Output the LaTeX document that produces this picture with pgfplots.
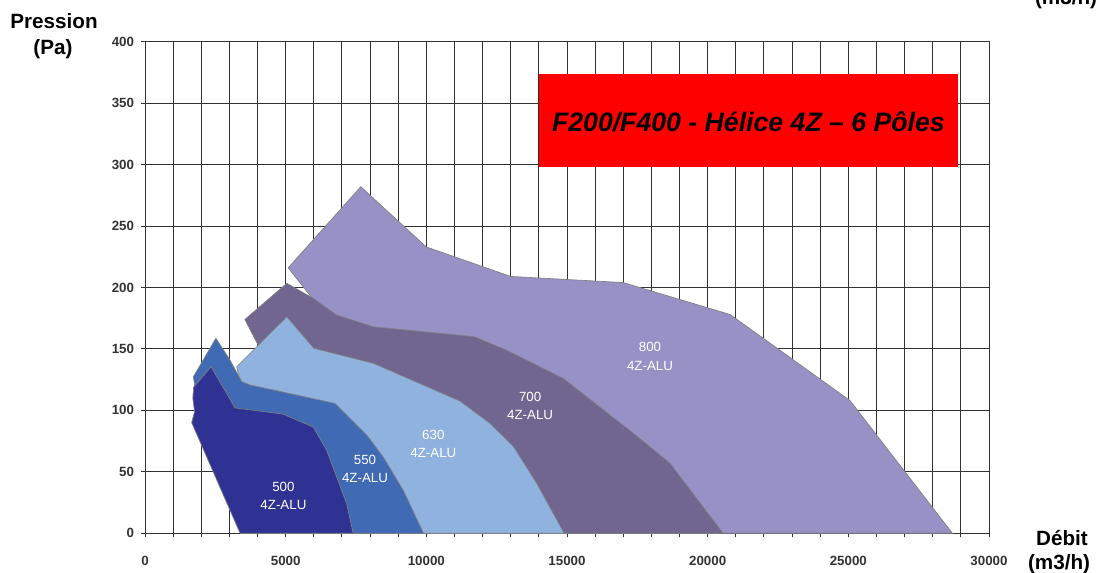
\documentclass[border=0pt]{standalone}
\usepackage{pgfplots}
\pgfplotsset{compat=1.18}
\usepackage{fontspec}
\setmainfont{Liberation Sans}
\definecolor{c500}{RGB}{47,50,146}
\definecolor{c550}{RGB}{64,106,180}
\definecolor{c630}{RGB}{143,178,222}
\definecolor{c700}{RGB}{113,102,143}
\definecolor{c800}{RGB}{151,145,198}
\definecolor{gridc}{RGB}{50,50,50}
\begin{document}
\begin{tikzpicture}
\begin{axis}[
  scale only axis, width=633pt, height=368.7pt,
  at={(108.75pt,29.775pt)}, anchor=south west,
  xmin=0, xmax=30000, ymin=0, ymax=400,
  xtick={0,5000,...,30000}, minor x tick num=4,
  ytick={0,50,...,400},
  scaled x ticks=false,
  grid=both,
  major grid style={gridc, line width=0.75pt},
  minor grid style={gridc, line width=0.75pt},
  axis line style={gridc, line width=0.75pt},
  tick align=outside,
  major tick length=3pt, minor tick length=3pt,
  tick style={gridc, line width=0.75pt},
  xtick pos=bottom, ytick pos=left,
  /pgf/number format/1000 sep={},
  /pgf/number format/assume math mode=true,
  xticklabel style={font=\fontsize{10}{12}\selectfont\bfseries, text=black!80, anchor=center, yshift=-18pt},
  yticklabel style={font=\fontsize{10}{12}\selectfont\bfseries, text=black!80, anchor=east, inner sep=0pt, xshift=-5pt},
]
% 800
\addplot[fill=c800, draw=black!50, line width=0.5pt] coordinates {
 (5090,216) (7670,282) (10000,233) (13000,209) (17000,204) (20800,178) (25060,108) (28700,0)
 (7000,0) (6500,150) (5950,191) (5090,216)};
% 700
\addplot[fill=c700, draw=black!50, line width=0.5pt] coordinates {
 (3550,174) (5040,203.4) (5980,191.2) (6810,177.6) (8120,168) (11700,160) (12850,149) (14870,126)
 (17600,77) (18660,57) (20550,0) (5000,0) (4600,60) (4090,150) (3550,174)};
% 630
\addplot[fill=c630, draw=black!50, line width=0.5pt] coordinates {
 (3260,135.5) (5040,176.2) (6000,150.5) (8120,138.3) (11200,107.5) (12260,89.5) (13100,70.5)
 (13920,40.7) (14900,0) (4000,0) (3500,110) (3260,135.5)};
% 550
\addplot[fill=c550, draw=black!50, line width=0.5pt] coordinates {
 (1720,127.4) (2520,158.7) (3020,141) (3440,123.4) (3730,120.7) (6750,105.7) (7880,80) (8470,62)
 (9180,35) (9900,0) (3400,0) (1900,100) (1720,127.4)};
% 500
\addplot[fill=c500, draw=black!50, line width=0.5pt] coordinates {
 (3380,0) (1660,90) (1760,99) (1700,110) (1730,119) (2350,135.5) (3200,102) (4900,97) (5980,86.5)
 (6450,68) (7170,24) (7400,0) (3380,0)};
% title box
\fill[red] (axis cs:14000,298) rectangle (axis cs:28900,374);
\node[font=\fontsize{20}{24}\selectfont\bfseries\itshape, text=black] at (axis cs:21450,335) {F200/F400 - Hélice 4Z – 6 Pôles};
% series labels
\tikzset{lab/.style={text=white, align=center, font=\fontsize{10}{14}\selectfont}}
\node[lab] at (axis cs:4920,30.4) {500\\4Z-ALU};
\node[lab] at (axis cs:7820,52.3) {550\\4Z-ALU};
\node[lab] at (axis cs:10250,72.7) {630\\4Z-ALU};
\node[lab] at (axis cs:13690,103.6) {700\\4Z-ALU};
\node[lab] at (axis cs:17950,143.7) {800\\4Z-ALU};
\end{axis}
\begin{scope}[x=0.75pt,y=0.75pt]
\tikzset{ax/.style={font=\fontsize{15.5}{18}\selectfont\bfseries, anchor=base, inner sep=0pt}}
\node[ax] at (54,573-28.3) {Pression};
\node[ax] at (53,573-55) {(Pa)};
\node[ax] at (1062,573-546) {Débit};
\node[ax] at (1059,573-570) {(m3/h)};
\node[ax] at (1066,573-4.5) {(m3/h)};
\end{scope}
\pgfresetboundingbox
\path[use as bounding box] (0pt,0pt) rectangle (825pt,429.75pt);
\end{tikzpicture}
\end{document}
